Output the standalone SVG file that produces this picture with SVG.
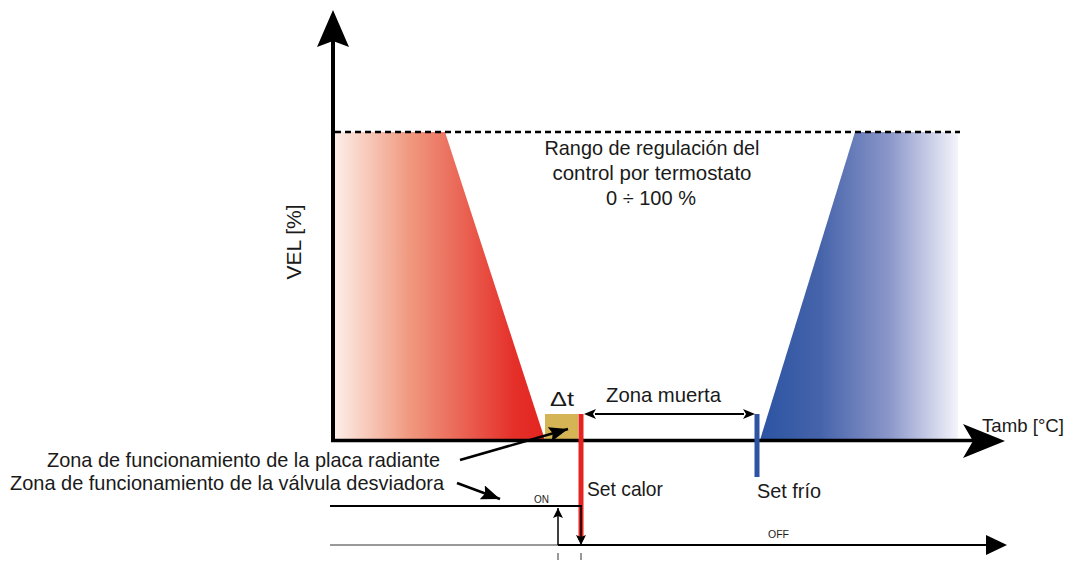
<svg xmlns="http://www.w3.org/2000/svg" width="1072" height="567" viewBox="0 0 1072 567">
<defs>
<linearGradient id="gRed" x1="335" y1="0" x2="545" y2="0" gradientUnits="userSpaceOnUse">
<stop offset="0" stop-color="#fdeee8"/>
<stop offset="0.35" stop-color="#f09a80"/>
<stop offset="0.85" stop-color="#e5302a"/>
<stop offset="1" stop-color="#e3241f"/>
</linearGradient>
<linearGradient id="gBlue" x1="760" y1="0" x2="958" y2="0" gradientUnits="userSpaceOnUse">
<stop offset="0" stop-color="#2c54a3"/>
<stop offset="0.3" stop-color="#4563aa"/>
<stop offset="0.65" stop-color="#8a96c9"/>
<stop offset="1" stop-color="#f4f4fb"/>
</linearGradient>
<marker id="ah" viewBox="0 0 10 10" refX="10" refY="5" markerWidth="10" markerHeight="10" markerUnits="userSpaceOnUse" orient="auto">
<path d="M0,0 L10,5 L0,10 L2,5 Z" fill="#000"/>
</marker>
<marker id="ahL" viewBox="0 0 18 14" refX="18" refY="7" markerWidth="19" markerHeight="15" markerUnits="userSpaceOnUse" orient="auto">
<path d="M0,0 L18,7 L0,14 L3,7 Z" fill="#000"/>
</marker>
</defs>
<style>
text{font-family:"Liberation Sans",Arial,sans-serif;fill:#1a1a1a}
.lbl{font-size:21px}
.sm{font-size:10px}
.ln{stroke:#000;fill:none}
</style>

<g id="zones">
<polygon points="335,132 445,132 545,440 335,440" fill="url(#gRed)"/>
<polygon points="855,132 958,132 958,440 760,440" fill="url(#gBlue)"/>
<rect id="deltaRect" x="545" y="414" width="33" height="26" fill="#d4b455"/>
</g>

<g id="axes">
<line x1="333" y1="442" x2="333" y2="40" stroke="#000" stroke-width="4"/>
<polygon points="333,10 349,47 333,41 317,47" fill="#000"/>
<line x1="331" y1="440.5" x2="975" y2="440.5" stroke="#000" stroke-width="3.5"/>
<polygon points="1005,441 963,458 973,441 963,424" fill="#000"/>
<line x1="335" y1="132" x2="960" y2="132" stroke="#000" stroke-width="2.5" stroke-dasharray="6,4"/>
</g>

<g id="setpoints">
<rect x="578.5" y="414" width="5" height="126" fill="#e3241f"/>
<rect x="754.5" y="414" width="5" height="63" fill="#2d53a3"/>
</g>

<g id="connectors">
<line class="ln" x1="595" y1="414" x2="744" y2="414" stroke-width="2"/>
<polygon points="584,414 596,409 593,414 596,419" fill="#000"/>
<polygon points="755,414 743,409 746,414 743,419" fill="#000"/>
<line class="ln" x1="460" y1="460" x2="568" y2="429" stroke-width="2.5" marker-end="url(#ahL)"/>
<line class="ln" x1="457" y1="483" x2="500" y2="499" stroke-width="2.5" marker-end="url(#ahL)"/>
<polyline class="ln" points="330,506 582,506" stroke-width="2"/>
<line x1="330" y1="545" x2="558" y2="545" stroke="#777" stroke-width="1.5"/>
<line x1="558" y1="545" x2="988" y2="545" stroke="#000" stroke-width="2"/>
<polygon points="1007,545 986,535 986,555" fill="#000"/>
<line class="ln" x1="558" y1="545" x2="558" y2="508" stroke-width="1.5" marker-end="url(#ah)"/>
<line class="ln" x1="581" y1="506" x2="581" y2="545" stroke-width="1.5" marker-end="url(#ah)"/>
<line x1="558" y1="553" x2="558" y2="560" stroke="#555" stroke-width="1.2"/>
<line x1="581" y1="553" x2="581" y2="560" stroke="#555" stroke-width="1.2"/>
</g>

<g id="labels">
<text class="lbl" x="652" y="155" text-anchor="middle" textLength="215" lengthAdjust="spacingAndGlyphs">Rango de regulación del</text>
<text class="lbl" x="652" y="180" text-anchor="middle" textLength="199" lengthAdjust="spacingAndGlyphs">control por termostato</text>
<text class="lbl" x="651" y="205" text-anchor="middle" textLength="90" lengthAdjust="spacingAndGlyphs">0 ÷ 100 %</text>
<text class="lbl" transform="translate(301,242) rotate(-90)" text-anchor="middle" textLength="75" lengthAdjust="spacingAndGlyphs">VEL [%]</text>
<text class="lbl" x="550" y="406" textLength="24" lengthAdjust="spacingAndGlyphs">Δt</text>
<text class="lbl" x="606" y="402" textLength="115" lengthAdjust="spacingAndGlyphs">Zona muerta</text>
<text x="982" y="432" font-size="19" textLength="82" lengthAdjust="spacingAndGlyphs">Tamb [°C]</text>
<text class="lbl" x="587" y="496" textLength="76" lengthAdjust="spacingAndGlyphs">Set calor</text>
<text class="lbl" x="757" y="498" textLength="64" lengthAdjust="spacingAndGlyphs">Set frío</text>
<text class="lbl" x="47" y="467" textLength="393" lengthAdjust="spacingAndGlyphs">Zona de funcionamiento de la placa radiante</text>
<text class="lbl" x="10" y="490" textLength="434" lengthAdjust="spacingAndGlyphs">Zona de funcionamiento de la válvula desviadora</text>
<text class="sm" x="534" y="503" textLength="15" lengthAdjust="spacingAndGlyphs">ON</text>
<text class="sm" x="768" y="538" textLength="21" lengthAdjust="spacingAndGlyphs">OFF</text>
</g>
</svg>
